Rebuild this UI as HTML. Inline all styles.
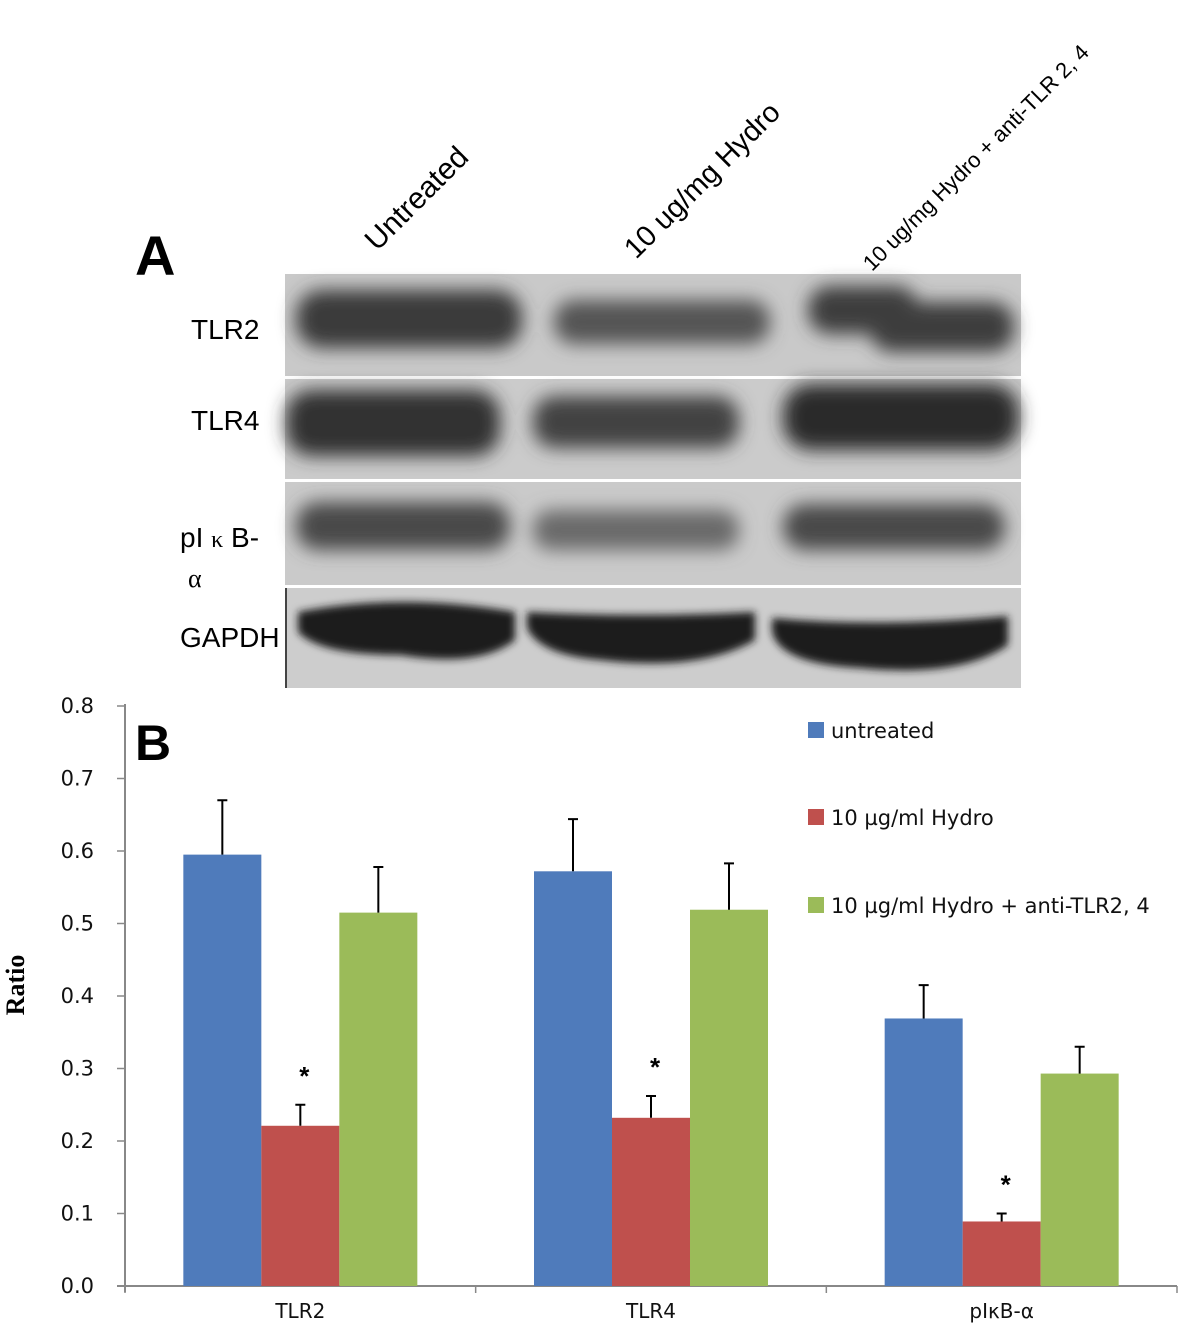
<!DOCTYPE html>
<html><head><meta charset="utf-8"><style>
html,body{margin:0;padding:0;background:#fff;}
svg{display:block;}
text{font-family:"Liberation Sans","DejaVu Sans",sans-serif;}
</style></head><body>
<svg id="fig" width="1182" height="1327" viewBox="0 0 1182 1327" xmlns="http://www.w3.org/2000/svg">
<defs>
<filter id="blur6" x="-20%" y="-80%" width="140%" height="260%"><feGaussianBlur stdDeviation="9"/></filter>
<filter id="blur4" x="-20%" y="-60%" width="140%" height="220%"><feGaussianBlur stdDeviation="4"/></filter>
</defs>
<rect x="0" y="0" width="1182" height="1327" fill="#fff"/>

<text x="135" y="275" font-size="56" font-weight="bold">A</text>
<g>
<text transform="translate(377,252) rotate(-45)" font-size="30">Untreated</text>
<text transform="translate(636,260) rotate(-45)" font-size="29">10 ug/mg Hydro</text>
<text transform="translate(872,272) rotate(-45)" font-size="22">10 ug/mg Hydro + anti-TLR 2, 4</text>
</g>
<g font-size="28">
<text x="191" y="339">TLR2</text>
<text x="191" y="430">TLR4</text>
<text x="180" y="547">pI <tspan style="font-family:'Liberation Serif',serif" font-size="24">κ</tspan> B-</text>
<text x="188" y="587" style="font-family:'Liberation Serif',serif" font-size="26">α</text>
<text x="180" y="647">GAPDH</text>
</g>

<g>
<rect x="285" y="274" width="736" height="102" fill="#c9c9c9"/>
<rect x="285" y="379" width="736" height="100" fill="#cbcbcb"/>
<rect x="285" y="482" width="736" height="103" fill="#cacaca"/>
<rect x="285" y="588" width="736" height="100" fill="#cdcdcd"/>
<line x1="286" y1="588" x2="286" y2="688" stroke="#444" stroke-width="2"/>
<g filter="url(#blur6)">
<rect x="296" y="290" width="226" height="58" rx="26" fill="#3a3a3a"/>
<rect x="554" y="300" width="216" height="44" rx="20" fill="#545454"/>
<rect x="808" y="286" width="110" height="48" rx="22" fill="#3e3e3e"/>
<rect x="870" y="302" width="144" height="50" rx="22" fill="#3e3e3e"/>
</g>
<g filter="url(#blur6)">
<rect x="286" y="390" width="214" height="66" rx="26" fill="#303030"/>
<rect x="533" y="396" width="206" height="52" rx="22" fill="#424242"/>
<rect x="783" y="384" width="236" height="66" rx="28" fill="#2c2c2c"/>
</g>
<g filter="url(#blur6)">
<rect x="296" y="502" width="214" height="48" rx="22" fill="#4a4a4a"/>
<rect x="533" y="510" width="206" height="40" rx="18" fill="#6a6a6a"/>
<rect x="783" y="504" width="222" height="46" rx="22" fill="#484848"/>
</g>
<g filter="url(#blur4)">
<path d="M298 612 Q400 592 515 612 L515 640 Q480 668 400 655 Q320 655 298 632 Z" fill="#1e1e1e"/>
<path d="M527 612 Q640 618 755 612 L755 640 Q700 672 600 660 Q540 655 527 628 Z" fill="#1e1e1e"/>
<path d="M772 618 Q880 628 1008 616 L1008 645 Q960 678 860 668 Q780 664 772 632 Z" fill="#1e1e1e"/>
</g>
</g>

<text x="135" y="760" font-size="50" font-weight="bold">B</text>
<text transform="translate(24,985) rotate(-90)" style="font-family:'Liberation Serif',serif" font-size="26" font-weight="bold" text-anchor="middle">Ratio</text>
<g id="chart"></g>
<g style="font-family:'DejaVu Sans',sans-serif">
<g><rect x="808" y="722" width="16" height="16" fill="#4f7bbb"/><text x="831" y="738" font-size="21" fill="#111" style="font-family:'DejaVu Sans',sans-serif">untreated</text></g>
<g><rect x="808" y="809" width="16" height="16" fill="#bf504d"/><text x="831" y="825" font-size="21" fill="#111" style="font-family:'DejaVu Sans',sans-serif">10 µg/ml Hydro</text></g>
<g><rect x="808" y="897" width="16" height="16" fill="#9bbb59"/><text x="831" y="913" font-size="21" fill="#111" style="font-family:'DejaVu Sans',sans-serif">10 µg/ml Hydro + anti-TLR2, 4</text></g>
</g>
</svg>
<script>
const categories = ["TLR2", "TLR4", "pIκB-α"];
const untreated = [0.595, 0.572, 0.369];
const hydro = [0.221, 0.232, 0.089];
const hydroAnti = [0.515, 0.519, 0.293];
const untreatedErr = [0.075, 0.072, 0.046];
const hydroErr = [0.029, 0.030, 0.011];
const hydroAntiErr = [0.063, 0.064, 0.037];
const yTicks = ["0.0","0.1","0.2","0.3","0.4","0.5","0.6","0.7","0.8"];

const NS = "http://www.w3.org/2000/svg";
const g = document.getElementById('chart');
const x0 = 125, x1 = 1177, yBase = 1286, yTop = 706, yMax = 0.8;
const y = v => yBase - v / yMax * (yBase - yTop);
const catW = (x1 - x0) / categories.length;
const barW = 78;
const catX = i => x0 + catW * i + catW / 2;
function mk(tag, attrs){const e=document.createElementNS(NS,tag);for(const k in attrs)e.setAttribute(k,attrs[k]);g.appendChild(e);return e;}

let ax = mk('line',{x1:x0,y1:yTop-2,x2:x0,y2:yBase+6,stroke:'#888','stroke-width':2});


yTicks.forEach(t=>{
  const yy = y(parseFloat(t));
  const tk = mk('line',{x1:x0-8,y1:yy,x2:x0,y2:yy,stroke:'#888','stroke-width':1.5});
  
  
  const tx = mk('text',{x:94,y:yy+7,'font-size':21,'text-anchor':'end',fill:'#111',style:"font-family:'DejaVu Sans',sans-serif"});
  tx.textContent = t;
  
  
});
let xa = mk('line',{x1:x0-8,y1:yBase,x2:x1,y2:yBase,stroke:'#888','stroke-width':2});


for(let i=0;i<=categories.length;i++){
  const xx = x0 + catW*i;
  const tk = mk('line',{x1:xx,y1:yBase,x2:xx,y2:yBase+7,stroke:'#888','stroke-width':1.5});
  
  
}
const series = [[untreated,untreatedErr,'#4f7bbb','untreated'],[hydro,hydroErr,'#bf504d','hydro'],[hydroAnti,hydroAntiErr,'#9bbb59','hydro-anti-tlr']];
categories.forEach((c,i)=>{
  const cx = catX(i);
  series.forEach((s,j)=>{
    const bx = cx - 1.5*barW + j*barW;
    const v = s[0][i], e = s[1][i];
    const r = mk('rect',{x:bx,y:y(v),width:barW,height:yBase-y(v),fill:s[2]});
    
    
    const ex = bx + barW/2;
    const el = mk('path',{d:`M${ex} ${y(v)} V${y(v+e)} M${ex-5} ${y(v+e)} H${ex+5}`,stroke:'#000','stroke-width':2,fill:'none'});
    
    
    if(j===1){
      const st = mk('text',{x:ex+4,y:y(v+e)-20,'font-size':26,'font-weight':'bold','text-anchor':'middle',fill:'#000'});
      st.textContent='*';
      
      
    }
  });
  const lb = mk('text',{x:cx,y:1318,'font-size':20,'text-anchor':'middle',fill:'#111',style:"font-family:'DejaVu Sans',sans-serif"});
  lb.textContent = c;
  
  
});
</script>
</body></html>
